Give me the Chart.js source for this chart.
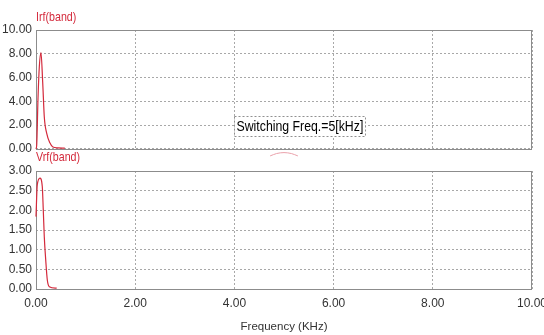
<!DOCTYPE html>
<html>
<head>
<meta charset="utf-8">
<script src="https://cdn.jsdelivr.net/npm/chart.js@4.4.1/dist/chart.umd.min.js"></script>
<style>
  html, body { margin: 0; padding: 0; background: #fff; }
  #wrap { position: relative; width: 544px; height: 335px; overflow: hidden; }
  .box { position: absolute; left: 0; width: 544px; }
  #b1 { top: 0; height: 160px; }
  #b2 { top: 150px; height: 185px; }
</style>
</head>
<body>
<div id="wrap">
  <div class="box" id="b1"><canvas id="c1"></canvas></div>
  <div class="box" id="b2"><canvas id="c2"></canvas></div>
</div>
<script>
// ---- data (frequency in kHz) ----
const irfFreq = [0, 0.014, 0.04, 0.067, 0.10, 0.135, 0.167, 0.216, 0.28, 0.34, 0.44, 0.58];
const irfValues = [0, 0.3, 4.2, 6.9, 8.1, 5.6, 2.7, 1.3, 0.5, 0.15, 0.08, 0.05];
const bumpFreq = [4.72, 4.85, 5.0, 5.15, 5.28];
const bumpValues = [-0.6, -0.4, -0.32, -0.4, -0.6];
const vrfFreq = [0, 0.026, 0.08, 0.127, 0.147, 0.167, 0.196, 0.228, 0.268, 0.417];
const vrfValues = [1.84, 2.65, 2.82, 2.6, 2.0, 1.33, 0.74, 0.23, 0.06, 0.02];
const xTicks = [0, 2, 4, 6, 8, 10];
const irfTicks = [0, 2, 4, 6, 8, 10];
const vrfTicks = [0, 0.5, 1, 1.5, 2, 2.5, 3];
const topLabel = 'Irf(band)';
const bottomLabel = 'Vrf(band)';
const xTitle = 'Frequency (KHz)';
const noteText = 'Switching Freq.=5[kHz]';
const noteX = 4.0;   // annotation anchor (kHz)
const noteY = 2.75;  // annotation top (Irf units)

const FONT = "'Liberation Sans', Arial, sans-serif";
const RED = '#d42a3c';
const GRID = '#a8a8a8';
const BORDER = '#8c8c8c';
const TICKC = '#333333';
const NARROW = 0.82;

function pts(xs, ys) { return xs.map((x, i) => ({ x: x, y: ys[i] })); }

function narrowText(ctx, text, x, y) {
  ctx.save();
  ctx.translate(x, y);
  ctx.scale(NARROW, 1);
  ctx.fillText(text, 0, 0);
  ctx.restore();
}

const framePlugin = {
  id: 'frame',
  beforeDatasetsDraw(chart) {
    const a = chart.chartArea, ctx = chart.ctx;
    ctx.save();
    ctx.strokeStyle = BORDER;
    ctx.lineWidth = 1;
    ctx.strokeRect(Math.round(a.left) + 0.5, Math.round(a.top) + 0.5,
                   Math.round(a.right - a.left) - 1, Math.round(a.bottom - a.top));
    ctx.restore();
  },
  afterDraw(chart, args, opts) {
    const a = chart.chartArea, ctx = chart.ctx;
    ctx.save();
    ctx.fillStyle = RED;
    ctx.font = '13px ' + FONT;
    ctx.textBaseline = 'alphabetic';
    ctx.textAlign = 'left';
    narrowText(ctx, opts.label, a.left, a.top - opts.gap);
    if (opts.note) {
      const xs = chart.scales.x, ys = chart.scales.y;
      const x0 = Math.round(xs.getPixelForValue(noteX)) + 0.5;
      const y0 = Math.round(ys.getPixelForValue(noteY)) + 0.5;
      ctx.font = '15px ' + FONT;
      const w = ctx.measureText(noteText).width * NARROW;
      ctx.fillStyle = '#fff';
      ctx.fillRect(x0, y0, w + 4, 20);
      ctx.setLineDash([2, 2]);
      ctx.strokeStyle = '#909090';
      ctx.strokeRect(x0, y0, Math.round(w + 4), 20);
      ctx.setLineDash([]);
      ctx.fillStyle = '#000';
      ctx.textBaseline = 'middle';
      narrowText(ctx, noteText, x0 + 2, y0 + 10.5);
    }
    ctx.restore();
  }
};

function yScale(min, max, ticks) {
  return {
    type: 'linear', min: min, max: max,
    afterFit(s) { s.width = 36; },
    afterBuildTicks(s) { s.ticks = ticks.map(v => ({ value: v })); },
    ticks: { padding: 4, color: TICKC, font: { family: FONT, size: 12 },
             callback: v => Number(v).toFixed(2) },
    grid: { color: GRID, drawTicks: false, lineWidth: 1 },
    border: { display: false, dash: [2, 2] }
  };
}

function xScale(showLabels) {
  return {
    type: 'linear', min: 0, max: 10,
    afterBuildTicks(s) { s.ticks = xTicks.map(v => ({ value: v })); },
    afterFit(s) { s.height = showLabels ? 46 : 0; s.paddingLeft = 0; s.paddingRight = 0; },
    ticks: { display: showLabels, padding: 7, color: TICKC, font: { family: FONT, size: 12 },
             maxRotation: 0, callback: v => Number(v).toFixed(2) },
    grid: { color: GRID, drawTicks: false, lineWidth: 1 },
    border: { display: false, dash: [2, 2] },
    title: { display: showLabels, text: xTitle, color: TICKC,
             font: { family: FONT, size: 11.5 }, padding: { top: 0, bottom: 1 } }
  };
}

Chart.defaults.animation = false;

const ds = (data) => ({
  data: data, borderColor: RED, borderWidth: 1.2, pointRadius: 0,
  fill: false, cubicInterpolationMode: 'monotone', clip: false
});

const chartTop = new Chart(document.getElementById('c1'), {
  type: 'line',
  data: { datasets: [ds(pts(irfFreq, irfValues)),
                     Object.assign(ds(pts(bumpFreq, bumpValues)), { borderColor: '#eaa0aa', borderWidth: 1 })] },
  options: {
    responsive: true, maintainAspectRatio: false,
    layout: { padding: { top: 30, right: 12, bottom: 11, left: 0 } },
    plugins: { legend: { display: false }, tooltip: { enabled: false },
               frame: { label: topLabel, gap: 9, note: true } },
    scales: { x: xScale(false), y: yScale(0, 10, irfTicks) }
  },
  plugins: [framePlugin]
});

const chartBottom = new Chart(document.getElementById('c2'), {
  type: 'line',
  data: { datasets: [ds(pts(vrfFreq, vrfValues))] },
  options: {
    responsive: true, maintainAspectRatio: false,
    layout: { padding: { top: 21, right: 12, bottom: 0, left: 0 } },
    plugins: { legend: { display: false }, tooltip: { enabled: false },
               frame: { label: bottomLabel, gap: 10, note: false } },
    scales: { x: xScale(true), y: yScale(0, 3, vrfTicks) }
  },
  plugins: [framePlugin]
});
</script>
</body>
</html>
